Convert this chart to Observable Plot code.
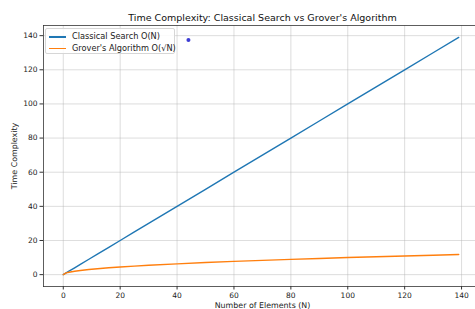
<!DOCTYPE html>
<html><head><meta charset="utf-8">
<script src="https://cdn.jsdelivr.net/npm/d3@7"></script>
<script src="https://cdn.jsdelivr.net/npm/@observablehq/plot@0.6"></script>
<style>
body{margin:0;background:#fff;}
#wrap{position:relative;width:475px;height:309px;overflow:hidden;font-family:"DejaVu Sans",sans-serif;}
#legend{position:absolute;left:45px;top:28px;width:130px;height:26px;box-sizing:border-box;border:1px solid #d6d6d6;border-radius:2px;background:rgba(255,255,255,0.85);font-size:8.2px;color:#222;}
.row{position:absolute;height:11px;line-height:11px;white-space:nowrap;}
.sw{position:absolute;left:3px;width:17px;height:1.5px;}
.lbl{position:absolute;left:26px;top:0;}
</style></head><body><div id="wrap"></div>
<script>
// ---- data ----
const N          = [0, 1, 2, 4, 6, 9, 12, 16, 20, 25, 30, 40, 50, 60, 70, 80, 90, 100, 110, 120, 130, 139];
const classical  = [0, 1, 2, 4, 6, 9, 12, 16, 20, 25, 30, 40, 50, 60, 70, 80, 90, 100, 110, 120, 130, 139];
const grover     = [0, 1, 1.41, 2, 2.45, 3, 3.46, 4, 4.47, 5, 5.48, 6.32, 7.07, 7.75, 8.37, 8.94, 9.49, 10, 10.49, 10.95, 11.4, 11.79];
const dotX = [44];
const dotY = [137.5];
const xTicks = [0, 20, 40, 60, 80, 100, 120, 140];
const yTicks = [0, 20, 40, 60, 80, 100, 120, 140];
const seriesNames = ["Classical Search O(N)", "Grover's Algorithm O(\u221AN)"];
const seriesColors = ["#1f77b4", "#ff7f0e"];
const titleText = "Time Complexity: Classical Search vs Grover's Algorithm";
const xLabel = "Number of Elements (N)";
const yLabel = "Time Complexity";

const classicalRows = N.map((n, i) => ({n, v: classical[i]}));
const groverRows = N.map((n, i) => ({n, v: grover[i]}));
const dotRows = dotX.map((x, i) => ({x, y: dotY[i]}));
const xDomain = [-6.95, 144.9];
const yDomain = [-6.95, 145.95];

const chart = Plot.plot({
  width: 475, height: 309,
  marginLeft: 43, marginRight: 0, marginTop: 25, marginBottom: 23,
  style: {fontFamily: "DejaVu Sans, sans-serif", fontSize: "7.5px", color: "#222", background: "#fff"},
  x: {domain: xDomain},
  y: {domain: yDomain},
  marks: [
    Plot.gridX(xTicks, {stroke: "#b0b0b0", strokeOpacity: 0.55, strokeWidth: 0.8}),
    Plot.gridY(yTicks, {stroke: "#b0b0b0", strokeOpacity: 0.55, strokeWidth: 0.8}),
    Plot.line(classicalRows, {x: "n", y: "v", stroke: seriesColors[0], strokeWidth: 1.4}),
    Plot.line(groverRows, {x: "n", y: "v", stroke: seriesColors[1], strokeWidth: 1.4}),
    Plot.dot(dotRows, {x: "x", y: "y", r: 2, fill: "#3c3cd4", stroke: "none"}),
    Plot.axisX({ticks: xTicks, tickSize: 3.5, tickPadding: 2.5, label: null, stroke: "#333"}),
    Plot.axisY({ticks: yTicks, tickSize: 3.5, tickPadding: 2.5, label: null, stroke: "#333"}),
    Plot.frame({anchor: "left", stroke: "#333", strokeWidth: 0.8}),
    Plot.frame({anchor: "bottom", stroke: "#333", strokeWidth: 0.8}),
    Plot.frame({anchor: "top", stroke: "#333", strokeWidth: 0.8}),
    Plot.text([titleText], {frameAnchor: "top", dx: 3, dy: -5, lineAnchor: "bottom", fontSize: 9.5, fill: "#111"}),
    Plot.text([xLabel], {frameAnchor: "bottom", dx: 3, dy: 21, lineAnchor: "bottom", fontSize: 7.9, fill: "#222"}),
    Plot.text([yLabel], {frameAnchor: "left", dx: -29, rotate: -90, textAnchor: "middle", lineAnchor: "middle", fontSize: 7.9, fill: "#222"})
  ]
});
const wrap = document.getElementById("wrap");
wrap.appendChild(chart);

const legend = document.createElement("div");
legend.id = "legend";
seriesNames.forEach((name, i) => {
  const row = document.createElement("div");
  row.className = "row";
  row.style.top = (2 + i * 11.5) + "px";
  row.style.left = "0px";
  row.style.width = "128px";
  const sw = document.createElement("div");
  sw.className = "sw";
  sw.style.top = "5px";
  sw.style.background = seriesColors[i];
  const lbl = document.createElement("div");
  lbl.className = "lbl";
  lbl.textContent = name;
  row.appendChild(sw);
  row.appendChild(lbl);
  legend.appendChild(row);
});
wrap.appendChild(legend);
</script></body></html>
